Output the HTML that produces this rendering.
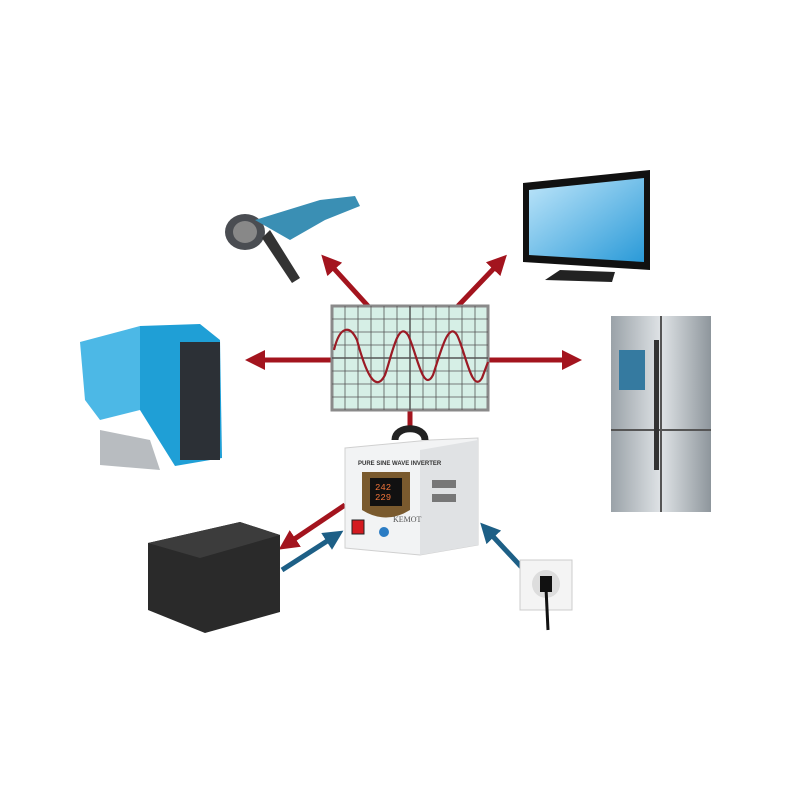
<!DOCTYPE html>
<html><head><style>body{margin:0;background:#fff}svg{display:block}</style></head><body>
<svg width="800" height="800" viewBox="0 0 800 800" xmlns="http://www.w3.org/2000/svg">
<defs>
<marker id="r" markerWidth="4" markerHeight="4" refX="2" refY="2" orient="auto"><path d="M0,0 L4,2 L0,4 z" fill="#a3141e"/></marker>
<marker id="b" markerWidth="4" markerHeight="4" refX="2" refY="2" orient="auto"><path d="M0,0 L4,2 L0,4 z" fill="#1d5f86"/></marker>
<linearGradient id="fr" x1="0" x2="1"><stop offset="0" stop-color="#9aa2a8"/><stop offset=".5" stop-color="#dfe3e6"/><stop offset="1" stop-color="#8e969c"/></linearGradient>
<linearGradient id="tv" x1="0" y1="0" x2="1" y2="1"><stop offset="0" stop-color="#bfe6fa"/><stop offset="1" stop-color="#2a9ad8"/></linearGradient>
</defs>
<!-- red arrows -->
<g stroke="#a3141e" stroke-width="5" fill="none">
<line x1="368" y1="306" x2="328" y2="262" marker-end="url(#r)"/>
<line x1="458" y1="306" x2="500" y2="262" marker-end="url(#r)"/>
<line x1="332" y1="360" x2="255" y2="360" marker-end="url(#r)"/>
<line x1="488" y1="360" x2="572" y2="360" marker-end="url(#r)"/>
<line x1="410" y1="408" x2="410" y2="428"/>
<line x1="345" y1="505" x2="287" y2="544" marker-end="url(#r)"/>
</g>
<g stroke="#1d5f86" stroke-width="5" fill="none">
<line x1="282" y1="570" x2="335" y2="536" marker-end="url(#b)"/>
<line x1="527" y1="573" x2="487" y2="530" marker-end="url(#b)"/>
</g>
<!-- scope -->
<rect x="332" y="306" width="156" height="104" fill="#d6efe6" stroke="#8a8a8a" stroke-width="3"/>
<g stroke="#555" stroke-width="0.8">
<line x1="345" y1="306" x2="345" y2="410"/><line x1="358" y1="306" x2="358" y2="410"/><line x1="371" y1="306" x2="371" y2="410"/><line x1="384" y1="306" x2="384" y2="410"/><line x1="397" y1="306" x2="397" y2="410"/><line x1="410" y1="306" x2="410" y2="410" stroke-width="1.5"/><line x1="423" y1="306" x2="423" y2="410"/><line x1="436" y1="306" x2="436" y2="410"/><line x1="449" y1="306" x2="449" y2="410"/><line x1="462" y1="306" x2="462" y2="410"/><line x1="475" y1="306" x2="475" y2="410"/>
<line x1="332" y1="319" x2="488" y2="319"/><line x1="332" y1="332" x2="488" y2="332"/><line x1="332" y1="345" x2="488" y2="345"/><line x1="332" y1="358" x2="488" y2="358" stroke-width="1.5"/><line x1="332" y1="371" x2="488" y2="371"/><line x1="332" y1="384" x2="488" y2="384"/><line x1="332" y1="397" x2="488" y2="397"/>
</g>
<path d="M334,350 C340,325 350,325 357,340 C365,370 375,395 385,375 C392,355 398,320 408,335 C416,350 423,395 433,375 C440,355 448,320 457,335 C465,350 472,395 482,378 L488,362" fill="none" stroke="#9b1b25" stroke-width="2.2"/>
<!-- inverter -->
<path d="M345,448 L430,440 L478,438 L478,545 L420,555 L345,548 z" fill="#f2f3f4" stroke="#d0d0d0"/>
<path d="M420,450 L478,440 L478,545 L420,555 z" fill="#e0e2e4"/>
<path d="M395,440 C395,425 425,425 425,440" stroke="#222" stroke-width="7" fill="none"/>
<text x="358" y="465" font-family="Liberation Sans,sans-serif" font-size="6" font-weight="bold" fill="#333">PURE SINE WAVE INVERTER</text>
<path d="M362,472 L410,472 L410,510 Q386,525 362,510 z" fill="#7a5a2e"/>
<rect x="370" y="478" width="32" height="28" fill="#111"/>
<text x="375" y="490" font-family="Liberation Mono,monospace" font-size="9" fill="#f0743a">242</text>
<text x="375" y="500" font-family="Liberation Mono,monospace" font-size="9" fill="#f0743a">229</text>
<rect x="352" y="520" width="12" height="14" fill="#d41a20" stroke="#222"/>
<circle cx="384" cy="532" r="5" fill="#2b7cc4"/>
<text x="393" y="522" font-family="Liberation Serif,serif" font-size="8" fill="#555">KEMOT</text>
<g fill="#777"><rect x="432" y="480" width="24" height="8"/><rect x="432" y="494" width="24" height="8"/></g>
<!-- grinder -->
<ellipse cx="245" cy="232" rx="20" ry="18" fill="#4a4d52"/>
<ellipse cx="245" cy="232" rx="12" ry="11" fill="#888"/>
<path d="M255,220 L320,200 L355,196 L360,206 L325,220 L290,240 Z" fill="#3a8fb4"/>
<path d="M270,230 L300,278 L292,283 L262,238 z" fill="#333"/>
<!-- TV -->
<path d="M523,183 L650,170 L650,270 L523,262 z" fill="#111"/>
<path d="M529,190 L644,178 L644,262 L529,255 z" fill="url(#tv)"/>
<path d="M560,270 L615,272 L612,282 L545,280 z" fill="#222"/>
<!-- fridge -->
<rect x="611" y="316" width="100" height="196" fill="url(#fr)"/>
<line x1="661" y1="316" x2="661" y2="430" stroke="#555" stroke-width="2"/>
<line x1="611" y1="430" x2="711" y2="430" stroke="#555" stroke-width="2"/>
<line x1="661" y1="430" x2="661" y2="512" stroke="#555" stroke-width="2"/>
<rect x="619" y="350" width="26" height="40" fill="#357aa0"/>
<rect x="654" y="340" width="5" height="130" fill="#333"/>
<!-- boiler -->
<path d="M80,342 L140,326 L140,410 L100,420 L85,400 z" fill="#4cb8e6"/>
<path d="M140,326 L200,324 L220,340 L222,458 L175,466 L140,410 z" fill="#1f9fd6"/>
<rect x="180" y="342" width="40" height="118" fill="#2c3036"/>
<path d="M100,430 L150,440 L160,470 L100,465 z" fill="#b8bcc0"/>
<!-- battery -->
<path d="M148,543 L240,522 L280,535 L280,612 L205,633 L148,610 z" fill="#2a2a2a"/>
<path d="M148,543 L240,522 L280,535 L200,558 z" fill="#3c3c3c"/>
<!-- socket -->
<rect x="520" y="560" width="52" height="50" fill="#f4f4f4" stroke="#ccc"/>
<circle cx="546" cy="584" r="14" fill="#ddd"/>
<path d="M546,588 L548,630" stroke="#111" stroke-width="3"/>
<rect x="540" y="576" width="12" height="16" fill="#111"/>
</svg>
</body></html>
